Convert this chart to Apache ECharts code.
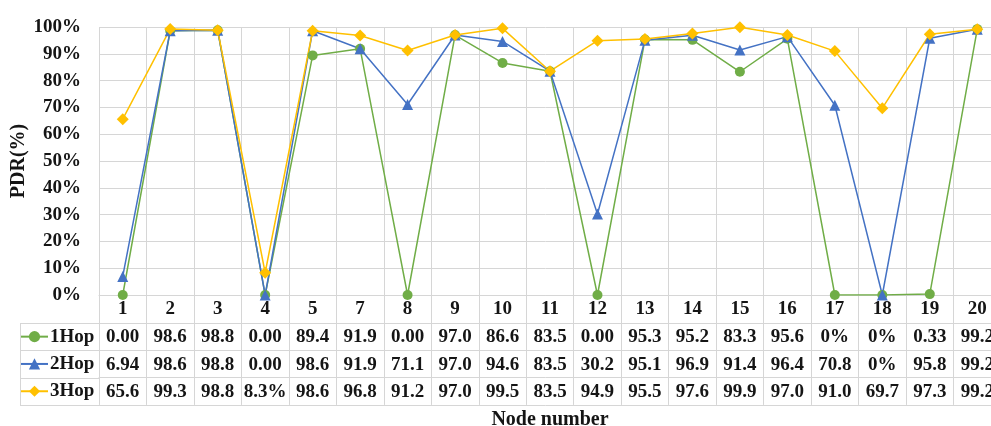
<!DOCTYPE html>
<html>
<head>
<meta charset="utf-8">
<title>PDR by node</title>
<script src="https://cdn.jsdelivr.net/npm/echarts@6/dist/echarts.min.js"></script>
<style>
  html, body { margin: 0; padding: 0; background: #fff; }
  #chart { width: 991px; height: 426px; }
</style>
</head>
<body>
<div id="chart"></div>
<script>
// Node numbers along the x axis (node 6 is absent)
const nodes = ['1', '2', '3', '4', '5', '7', '8', '9', '10', '11', '12', '13', '14', '15', '16', '17', '18', '19', '20'];

// Packet delivery ratio (%) per node
const hop1 = [0.00, 98.6, 98.8, 0.00, 89.4, 91.9, 0.00, 97.0, 86.6, 83.5, 0.00, 95.3, 95.2, 83.3, 95.6, 0, 0, 0.33, 99.2];
const hop2 = [6.94, 98.6, 98.8, 0.00, 98.6, 91.9, 71.1, 97.0, 94.6, 83.5, 30.2, 95.1, 96.9, 91.4, 96.4, 70.8, 0, 95.8, 99.2];
const hop3 = [65.6, 99.3, 98.8, 8.3, 98.6, 96.8, 91.2, 97.0, 99.5, 83.5, 94.9, 95.5, 97.6, 99.9, 97.0, 91.0, 69.7, 97.3, 99.2];

// Text shown in the data table cells
const hop1Cells = ['0.00', '98.6', '98.8', '0.00', '89.4', '91.9', '0.00', '97.0', '86.6', '83.5', '0.00', '95.3', '95.2', '83.3', '95.6', '0%', '0%', '0.33', '99.2'];
const hop2Cells = ['6.94', '98.6', '98.8', '0.00', '98.6', '91.9', '71.1', '97.0', '94.6', '83.5', '30.2', '95.1', '96.9', '91.4', '96.4', '70.8', '0%', '95.8', '99.2'];
const hop3Cells = ['65.6', '99.3', '98.8', '8.3%', '98.6', '96.8', '91.2', '97.0', '99.5', '83.5', '94.9', '95.5', '97.6', '99.9', '97.0', '91.0', '69.7', '97.3', '99.2'];

const seriesNames = ['1Hop', '2Hop', '3Hop'];
const yTicks = { min: 0, max: 100, interval: 10 };

const FONT = '"Liberation Serif", "Times New Roman", serif';
const TEXT = '#151515';
const GRID_LINE = '#d6d6d6';
const COLORS = ['#70AD47', '#4472C4', '#FFC000'];

// Plot area geometry (the last column runs slightly past the right edge)
const G = { left: 99, top: 27, bottom: 131, right: -10 };
const CANVAS_H = 426;
const axisY = CANVAS_H - G.bottom;       // y of the 0% line
const ROW_H = 27.3;                       // data table row height
const tableTop = 28;                      // offset of first table row below 0% line
const rowOffsets = [tableTop, tableTop + ROW_H, tableTop + 2 * ROW_H, tableTop + 3 * ROW_H];

const baseText = { fontFamily: FONT, fontWeight: 'bold', color: TEXT, fontSize: 19 };

function tableRowAxis(cells, offset) {
  return {
    type: 'category',
    data: cells,
    position: 'bottom',
    offset: offset,
    gridIndex: 0,
    boundaryGap: true,
    axisLine: { show: true, lineStyle: { color: GRID_LINE, width: 1 } },
    axisTick: { show: false },
    splitLine: { show: false },
    axisLabel: Object.assign({ interval: 0, margin: 5 }, baseText),
    axisPointer: { show: false }
  };
}

function rowLegend(i) {
  return {
    data: [seriesNames[i]],
    left: 20,
    top: axisY + rowOffsets[i] + (ROW_H - 19) / 2,
    padding: 0,
    orient: 'horizontal',
    itemWidth: 27,
    itemHeight: 14,
    itemGap: 4,
    selectedMode: false,
    textStyle: Object.assign({}, baseText, { fontSize: 19, padding: [0, 0, 0, -3] })
  };
}

const chart = echarts.init(document.getElementById('chart'), null, { renderer: 'canvas' });

// Borders of the legend column to the left of the table
const tableLeft = 20;
const borderLines = [];
for (let k = 0; k < rowOffsets.length; k++) {
  const y = Math.round(axisY + rowOffsets[k]) + 0.5;
  borderLines.push({
    type: 'line',
    shape: { x1: tableLeft, y1: y, x2: G.left, y2: y },
    style: { stroke: GRID_LINE, lineWidth: 1 },
    silent: true
  });
}
borderLines.push({
  type: 'line',
  shape: {
    x1: tableLeft + 0.5, y1: Math.round(axisY + rowOffsets[0]),
    x2: tableLeft + 0.5, y2: Math.round(axisY + rowOffsets[3]) + 1
  },
  style: { stroke: GRID_LINE, lineWidth: 1 },
  silent: true
});

const option = {
  animation: false,
  backgroundColor: '#ffffff',
  color: COLORS,
  grid: {
    left: G.left, right: G.right, top: G.top, bottom: G.bottom,
    containLabel: false,
    outerBoundsMode: 'none'
  },
  legend: [rowLegend(0), rowLegend(1), rowLegend(2)],
  xAxis: [
    {
      type: 'category',
      data: nodes,
      position: 'bottom',
      boundaryGap: true,
      axisLine: { show: true, lineStyle: { color: GRID_LINE, width: 1 } },
      axisTick: {
        show: true, interval: 0, inside: false,
        length: rowOffsets[3],
        lineStyle: { color: GRID_LINE, width: 1 }
      },
      splitLine: { show: true, interval: 0, lineStyle: { color: GRID_LINE, width: 1 } },
      axisLabel: Object.assign({ interval: 0, margin: 5 }, baseText)
    },
    tableRowAxis(hop1Cells, rowOffsets[0]),
    tableRowAxis(hop2Cells, rowOffsets[1]),
    tableRowAxis(hop3Cells, rowOffsets[2]),
    {
      type: 'category',
      data: nodes,
      position: 'bottom',
      offset: rowOffsets[3],
      boundaryGap: true,
      axisLine: { show: true, lineStyle: { color: GRID_LINE, width: 1 } },
      axisTick: { show: false },
      splitLine: { show: false },
      axisLabel: { show: false },
      name: 'Node number',
      nameLocation: 'middle',
      nameGap: 5,
      nameMoveOverlap: false,
      nameTextStyle: Object.assign({}, baseText, { fontSize: 20, verticalAlign: 'top' })
    }
  ],
  yAxis: {
    type: 'value',
    min: yTicks.min,
    max: yTicks.max,
    interval: yTicks.interval,
    axisLine: { show: false },
    axisTick: { show: false },
    splitLine: { show: true, lineStyle: { color: GRID_LINE, width: 1 } },
    axisLabel: Object.assign({ formatter: '{value}%', margin: 18 }, baseText),
    name: 'PDR(%)',
    nameLocation: 'middle',
    nameGap: 70,
    nameMoveOverlap: false,
    nameTextStyle: Object.assign({}, baseText, { fontSize: 20 })
  },
  series: [
    {
      name: seriesNames[0], type: 'line', data: hop1, xAxisIndex: 0,
      symbol: 'circle', symbolSize: 10, showAllSymbol: true,
      lineStyle: { width: 1.5, color: COLORS[0] },
      itemStyle: { color: COLORS[0] }
    },
    {
      name: seriesNames[1], type: 'line', data: hop2, xAxisIndex: 0,
      symbol: 'triangle', symbolSize: 11, showAllSymbol: true,
      lineStyle: { width: 1.5, color: COLORS[1] },
      itemStyle: { color: COLORS[1] }
    },
    {
      name: seriesNames[2], type: 'line', data: hop3, xAxisIndex: 0,
      symbol: 'diamond', symbolSize: 12, showAllSymbol: true,
      lineStyle: { width: 1.5, color: COLORS[2] },
      itemStyle: { color: COLORS[2] }
    }
  ],
  graphic: borderLines
};

chart.setOption(option);
</script>
</body>
</html>
